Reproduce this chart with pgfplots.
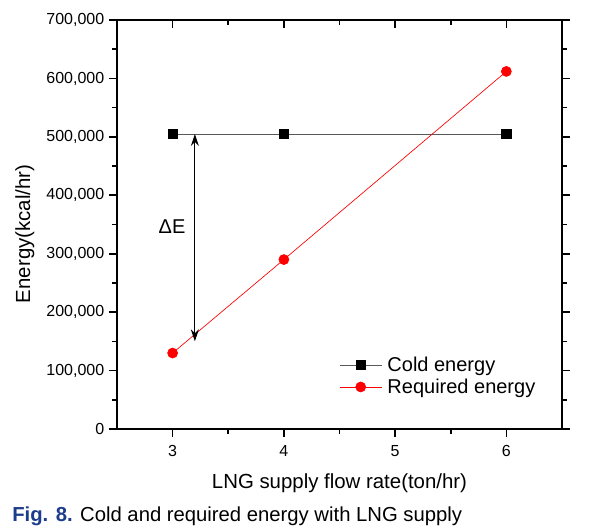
\documentclass[border=0pt]{standalone}
\usepackage{fontspec}
\setmainfont{Liberation Sans}
\usepackage{pgfplots}
\pgfplotsset{compat=1.18}
\usetikzlibrary{arrows.meta}
\definecolor{figblue}{RGB}{30,60,140}
\begin{document}
\begin{tikzpicture}
\useasboundingbox (0,0) rectangle (442.5pt,-398.25pt);
\begin{axis}[
  scale only axis, width=333.75pt, height=306.75pt,
  at={(87.75pt,-321.75pt)}, anchor=south west,
  xmin=2.5, xmax=6.5, ymin=0, ymax=700000,
  xtick={3,4,5,6}, ytick={0,100000,200000,300000,400000,500000,600000,700000},
  minor x tick num=1, minor y tick num=1,
  tick align=outside, xtick pos=bottom, ytick pos=both,
  major tick length=6pt, minor tick length=3.5pt,
  axis line style={line width=1.3pt},
  every tick/.style={line width=1.2pt, black},
  scaled y ticks=false,
  /pgf/number format/assume math mode=true,
  yticklabel style={font=\fontsize{12}{14}\selectfont, /pgf/number format/.cd, fixed, 1000 sep={,}},
  xticklabel style={font=\fontsize{12}{14}\selectfont, yshift=-3pt},
  xlabel={LNG supply flow rate(ton/hr)},
  xlabel style={font=\fontsize{15.3}{18}\selectfont, at={(axis description cs:0.5,-0.132)}, anchor=center},
  ylabel={Energy(kcal/hr)},
  ylabel style={font=\fontsize{15.3}{18}\selectfont, at={(axis description cs:-0.207,0.477)}, anchor=center},
  legend style={draw=none, fill=none, at={(0.49,0.19)}, anchor=north west, font=\fontsize{15}{18}\selectfont, row sep=0pt, column sep=2pt, cells={anchor=west}},
  legend image code/.code={\draw[mark repeat=2, mark phase=2] plot coordinates {(0pt,0pt) (15.75pt,0pt) (31.5pt,0pt)};},
]
\addplot[draw=black!65, line width=0.6pt, mark=square*, mark options={draw=black, fill=black, solid}, mark size=3.4pt]
  coordinates {(3,505000) (4,505000) (6,505000)};
\addlegendentry{Cold energy}
\addplot[draw=red, line width=0.5pt, mark=*, mark options={draw=red, fill=red, solid}, mark size=3.75pt]
  coordinates {(3,130000) (4,290000) (6,612000)};
\addlegendentry{Required energy}
\draw[line width=0.9pt, {Stealth[length=9pt,width=6pt,inset=3pt]}-{Stealth[length=9pt,width=6pt,inset=3pt]}]
  (axis cs:3.2,505000) -- (axis cs:3.2,150000);
\node[font=\fontsize{15}{18}\selectfont] at (axis cs:2.995,346000) {ΔE};
\end{axis}
\begin{axis}[
  scale only axis, width=333.75pt, height=306.75pt,
  at={(87.75pt,-321.75pt)}, anchor=south west,
  xmin=2.5, xmax=6.5, ymin=0, ymax=1,
  axis x line*=top, axis y line=none,
  xtick={3,4,5,6}, minor x tick num=1, xticklabels={},
  tick align=inside,
  major tick length=6pt, minor tick length=3.5pt,
  axis line style={line width=1.3pt, -},
  every tick/.style={line width=1.2pt, black},
]
\addplot[draw=none] coordinates {(3,0.5)};
\end{axis}
\node[anchor=base west, inner sep=0pt, font=\fontsize{15.2}{18}\selectfont] at (9pt,-391pt)
  {\textcolor{figblue}{\textbf{Fig. 8.}} Cold and required energy with LNG supply};
\end{tikzpicture}
\end{document}
